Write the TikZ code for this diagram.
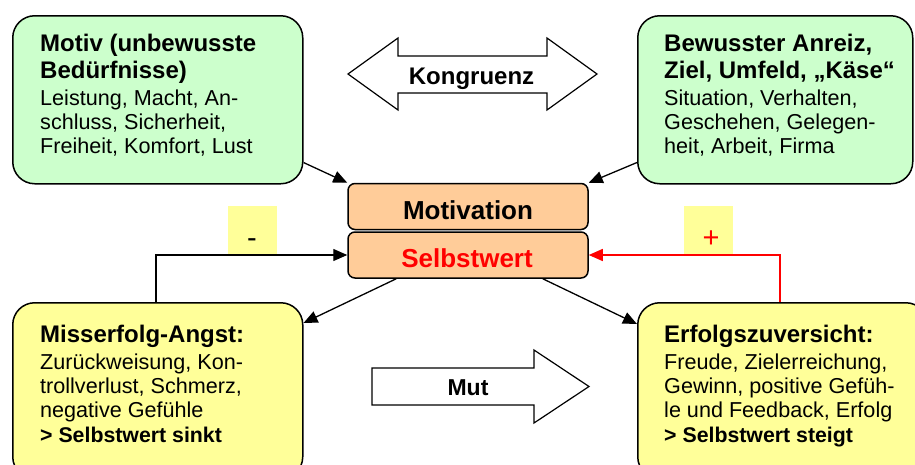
\documentclass[tikz,border=0pt]{standalone}
\usepackage{fontspec}
\setmainfont{Liberation Sans}
\usetikzlibrary{arrows.meta}
\definecolor{boxgreen}{HTML}{CCFFCC}
\definecolor{boxyellow}{HTML}{FFFF99}
\definecolor{boxpeach}{HTML}{FFCC99}
\definecolor{fbred}{HTML}{FF0000}
\begin{document}
\begin{tikzpicture}[x=1pt,y=-1pt,
 bigbox/.style={draw, line width=1.5pt, rounded corners=22pt, anchor=north west, inner sep=0pt},
 cbox/.style={draw, line width=1.5pt, rounded corners=7pt, fill=boxpeach, minimum width=240pt, minimum height=46pt, inner sep=0pt},
 ttl/.style={anchor=base west, inner sep=0pt, font=\fontsize{24}{28}\selectfont\bfseries},
 txt/.style={anchor=base west, inner sep=0pt, font=\fontsize{21.6}{24}\selectfont},
 txtb/.style={anchor=base west, inner sep=0pt, font=\fontsize{21.3}{24}\selectfont\bfseries},
 ctext/.style={anchor=base, inner sep=0pt, font=\fontsize{26}{30}\selectfont\bfseries},
 conn/.style={line width=1.3pt, -{Triangle[length=14pt,width=12pt]}},
 sign/.style={fill=boxyellow, minimum width=49pt, minimum height=48pt, inner sep=0pt},
 signtext/.style={anchor=base, inner sep=0pt, font=\fontsize{29}{32}\selectfont},
 bigarrow/.style={draw, line width=1.2pt, fill=white, line join=miter}]
\useasboundingbox (0,0) rectangle (915,464);
\clip (0,0) rectangle (915,464);

% big boxes
\node[bigbox, fill=boxgreen, minimum width=290pt, minimum height=168pt] (tl) at (12,15) {};
\node[bigbox, fill=boxgreen, minimum width=275pt, minimum height=168pt] (tr) at (637,15) {};
\node[bigbox, fill=boxyellow, minimum width=290pt, minimum height=176pt] (bl) at (12,302) {};
\node[bigbox, fill=boxyellow, minimum width=290pt, minimum height=176pt] (br) at (637,302) {};

% sign boxes
\node[sign] (minus) at (252.5,230) {};
\node[sign] (plus) at (708.5,230) {};
\node[signtext] (minusT) at (252,247) {-};
\node[signtext, text=fbred] (plusT) at (711,247) {+};

% center boxes
\node[cbox] (mot) at (468,206.5) {};
\node[cbox] (sw) at (468,255) {};
\node[ctext] (motT) at (468,219) {Motivation};
\node[ctext, text=fbred] (swT) at (467,267) {Selbstwert};

% connectors
\draw[conn] ([yshift=22pt]tl.south east) -- (mot.north west);
\draw[conn] ([yshift=22pt]tr.south west) -- (mot.north east);
\draw[conn] ([xshift=49pt]sw.south west) -- ([yshift=-21pt]bl.north east);
\draw[conn] ([xshift=-46pt]sw.south east) -- ([yshift=-22pt]br.north west);
\draw[conn] ([xshift=144pt]bl.north west) |- (sw.west);
\draw[conn, color=fbred] ([xshift=143pt]br.north west) |- (sw.east);

% big arrows
\draw[bigarrow] (348,74) -- (398,38) -- (398,56) -- (547,56) -- (547,38) -- (597,74) -- (547,110) -- (547,93) -- (398,93) -- (398,110) -- cycle;
\node[anchor=base, inner sep=0pt, font=\fontsize{24}{28}\selectfont\bfseries] (kong) at (471.5,84) {Kongruenz};
\draw[bigarrow] (372,368) -- (534,368) -- (534,350) -- (589,386.5) -- (534,423) -- (534,405) -- (372,405) -- cycle;
\node[anchor=base, inner sep=0pt, font=\fontsize{23}{27}\selectfont\bfseries] (mut) at (468,395.5) {Mut};

% top-left text
\node[ttl] (tl1) at (40,51) {Motiv (unbewusste};
\node[ttl] (tl2) at (40,78) {Bedürfnisse)};
\node[txt] (tl3) at (40,105) {Leistung, Macht, An-};
\node[txt] (tl4) at (40,129) {schluss, Sicherheit,};
\node[txt] (tl5) at (40,153) {Freiheit, Komfort, Lust};

% top-right text
\node[ttl] (tr1) at (664,51) {Bewusster Anreiz,};
\node[ttl] (tr2) at (664,78) {Ziel, Umfeld, „Käse“};
\node[txt] (tr3) at (664,105) {Situation, Verhalten,};
\node[txt] (tr4) at (664,129) {Geschehen, Gelegen-};
\node[txt] (tr5) at (664,153) {heit, Arbeit, Firma};

% bottom-left text
\node[ttl] (bl1) at (40,342) {Misserfolg-Angst:};
\node[txt] (bl2) at (40,369) {Zurückweisung, Kon-};
\node[txt] (bl3) at (40,393) {trollverlust, Schmerz,};
\node[txt] (bl4) at (40,417) {negative Gefühle};
\node[txtb] (bl5) at (40,442) {> Selbstwert sinkt};

% bottom-right text
\node[ttl] (br1) at (664,342) {Erfolgszuversicht:};
\node[txt] (br2) at (664,369) {Freude, Zielerreichung,};
\node[txt] (br3) at (664,393) {Gewinn, positive Gefüh-};
\node[txt] (br4) at (664,417) {le und Feedback, Erfolg};
\node[txtb] (br5) at (664,442) {> Selbstwert steigt};
\end{tikzpicture}
\end{document}
